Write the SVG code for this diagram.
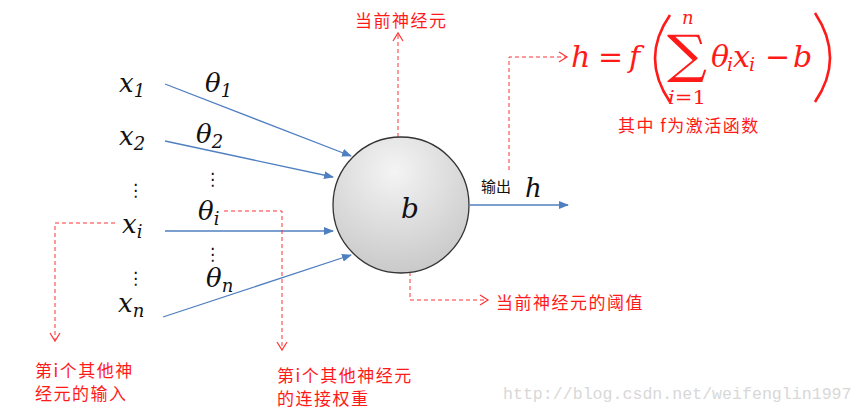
<svg xmlns="http://www.w3.org/2000/svg" width="865" height="414" viewBox="0 0 865 414">
<defs>
<radialGradient id="g" cx="0.45" cy="0.25" r="0.85">
<stop offset="0" stop-color="#f4f4f4"/>
<stop offset="1" stop-color="#c4c4c4"/>
</radialGradient>
<marker id="ba" markerWidth="10" markerHeight="8" refX="9" refY="4" orient="auto" markerUnits="userSpaceOnUse">
<path d="M0,0 L10,4 L0,8 Z" fill="#4f7fc0"/>
</marker>
<marker id="ra" markerWidth="12" markerHeight="12" refX="10" refY="6" orient="auto" markerUnits="userSpaceOnUse">
<path d="M2,1 L10,6 L2,11" fill="none" stroke="#ff3333" stroke-width="1.2"/>
</marker>
<style>
.m{font-family:"DejaVu Serif","Liberation Serif",serif;font-style:italic;fill:#111;font-size:26px}
.sub{font-size:18px}
.f{font-family:"DejaVu Serif","Liberation Serif",serif;font-style:italic;fill:#ff1a1a;font-size:30px}
.fu{font-family:"DejaVu Serif","Liberation Serif",serif;fill:#ff1a1a;font-size:30px}
.fs{font-size:19px}
.blue{stroke:#4f7fc0;stroke-width:1.3;fill:none;marker-end:url(#ba)}
.red{stroke:#ff3333;stroke-width:1;stroke-dasharray:4,3;fill:none;marker-end:url(#ra)}
.rt{font-family:"Noto Sans CJK SC","Liberation Sans",sans-serif;font-size:17px;fill:#ff1a1a;letter-spacing:1.5px}
.dots{font-family:"DejaVu Sans",sans-serif;font-size:17px;fill:#111}
.par{fill:none;stroke:#ff1a1a;stroke-width:2.6}
</style>
</defs>
<rect width="865" height="414" fill="#fff"/>

<g id="connectors">
<line class="blue" x1="165" y1="84" x2="351" y2="156"/>
<line class="blue" x1="165" y1="141" x2="333" y2="177"/>
<line class="blue" x1="165" y1="231" x2="333" y2="231"/>
<line class="blue" x1="163" y1="317" x2="351" y2="255"/>
<line class="blue" x1="470" y1="205" x2="568" y2="205"/>
<polyline class="red" points="398,158 398,33"/>
<polyline class="red" points="509,170 509,57 567,57"/>
<polyline class="red" points="410,223 410,300 488,300"/>
<polyline class="red" points="115,223 55,223 55,341"/>
<polyline class="red" points="224,211 282,211 282,350"/>
</g>

<g id="neuron">
<circle cx="401" cy="205" r="68" fill="url(#g)" stroke="#333" stroke-width="1.3"/>
<text class="m" x="401" y="218" style="font-size:28px">b</text>
</g>

<g id="inputs">
<text class="m" x="119" y="92">x<tspan class="sub" dy="5">1</tspan></text>
<text class="m" x="119" y="145">x<tspan class="sub" dy="5">2</tspan></text>
<text class="dots" x="127" y="196">⋮</text>
<text class="m" x="122" y="233">x<tspan class="sub" dy="5">i</tspan></text>
<text class="dots" x="127" y="284">⋮</text>
<text class="m" x="118" y="312">x<tspan class="sub" dy="5">n</tspan></text>
</g>

<g id="weights">
<text class="m" x="205" y="92">θ<tspan class="sub" dy="5">1</tspan></text>
<text class="m" x="196" y="143">θ<tspan class="sub" dy="5">2</tspan></text>
<text class="dots" x="204" y="185">⋮</text>
<text class="m" x="198" y="220">θ<tspan class="sub" dy="5">i</tspan></text>
<text class="dots" x="204" y="260">⋮</text>
<text class="m" x="206" y="287">θ<tspan class="sub" dy="5">n</tspan></text>
</g>

<g id="output">
<text x="481" y="192" font-family="Noto Sans CJK SC,sans-serif" font-size="15" fill="#111">输出</text>
<text class="m" x="525" y="197">h</text>
</g>

<g id="formula">
<text class="f" x="571" y="67">h</text>
<text class="fu" x="598" y="67">=</text>
<text class="f" x="629" y="67">f</text>
<path class="par" d="M670,15 Q640,58 670,102"/>
<text class="fu" x="667" y="72" style="font-size:52px" textLength="40" lengthAdjust="spacingAndGlyphs">∑</text>
<text class="f" x="682" y="24" style="font-size:18px">n</text>
<text class="fu" x="668" y="104" style="font-size:18px" textLength="38" lengthAdjust="spacingAndGlyphs"><tspan font-style="italic">i</tspan>=1</text>
<text class="f" x="711" y="67">θ</text>
<text class="f fs" x="727" y="71">i</text>
<text class="f" x="733" y="67">x</text>
<text class="f fs" x="749" y="71">i</text>
<text class="fu" x="765" y="67">−</text>
<text class="f" x="793" y="67">b</text>
<path class="par" d="M815,13 Q845,58 815,102"/>
<text class="rt" x="618" y="132">其中 f为激活函数</text>
</g>

<g id="labels">
<text class="rt" x="355" y="27">当前神经元</text>
<text class="rt" x="496" y="309">当前神经元的阈值</text>
<text class="rt" x="35" y="377">第i个其他神</text>
<text class="rt" x="35" y="400">经元的输入</text>
<text class="rt" x="277" y="382">第i个其他神经元</text>
<text class="rt" x="277" y="405">的连接权重</text>
</g>

<text x="503" y="399" font-family="Liberation Mono,monospace" font-size="16.6" fill="#d8d8d8">http://blog.csdn.net/weifenglin1997</text>
</svg>
